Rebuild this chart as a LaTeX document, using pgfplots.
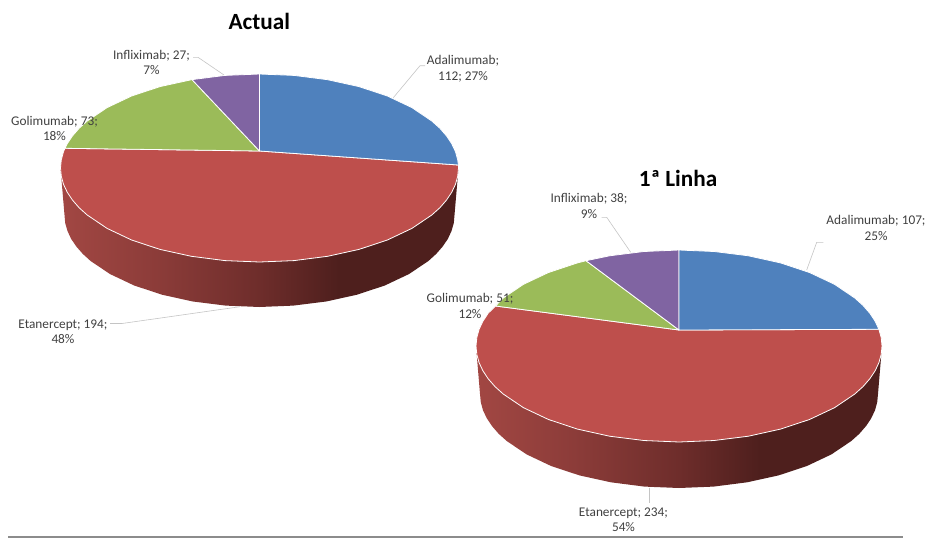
\documentclass[border=0pt]{standalone}
\usepackage{fontspec}
\setmainfont{Carlito}
\usepackage{pgfplots}
\pgfplotsset{compat=1.18}

\definecolor{adal}{HTML}{4F81BD}
\definecolor{etan}{HTML}{BE4F4C}
\definecolor{goli}{HTML}{9BBB59}
\definecolor{infl}{HTML}{8064A2}
\definecolor{leader}{HTML}{C4C4C4}
\definecolor{labeltext}{HTML}{404040}
\definecolor{footrule}{HTML}{8C8C8C}
\definecolor{sideA}{HTML}{A24743}
\definecolor{sideB}{HTML}{8C3C39}
\definecolor{sideC}{HTML}{6E2D2B}
\definecolor{sideD}{HTML}{4E1F1D}

% rim of a pie: lit on the left, falling to dark past the middle
\pgfdeclarehorizontalshading{pieside}{100bp}{
  color(0bp)=(sideA); color(25bp)=(sideA); color(37bp)=(sideB);
  color(50bp)=(sideC); color(60bp)=(sideD); color(100bp)=(sideD)}

\pgfplotsset{
  wedge/.style={draw=white, line width=0.8pt, line join=round, fill=#1},
  rim/.style={draw=none, shade, shading=pieside},
  lead/.style={draw=leader, line width=0.6pt},
}
\tikzset{
  lab/.style={font=\fontsize{13.3}{15.5}\selectfont, text=labeltext, align=center, inner sep=0pt},
  ttl/.style={font=\fontsize{23.2}{26}\selectfont\bfseries, text=black, inner sep=0pt},
}

\begin{document}
\begin{tikzpicture}
\begin{axis}[
  scale only axis, width=931pt, height=538pt,
  xmin=0, xmax=931, ymin=0, ymax=538, y dir=reverse,
  hide axis, clip=false,
]
% full page extent
\path (axis cs:0,0) rectangle (axis cs:931,538);

% --- Actual: rim, then wedges on top
\addplot[rim] coordinates {(60.5,168) (64.5,215) (65.2,223) (67.5,231) (71.1,238.8) (76.3,246.5) (82.8,253.9) (90.6,261) (110.1,274.1) (134.2,285.5) (162,294.7) (192.8,301.5) (225.6,305.6) (259.5,307) (293.4,305.6) (326.2,301.5) (357,294.7) (384.8,285.5) (408.9,274.1) (428.4,261) (436.2,253.9) (442.7,246.5) (447.9,238.8) (451.5,231) (453.8,223) (454.5,215) (458.5,168)} -- cycle;
\addplot[wedge=etan] coordinates {(259.5,151) (458.4,165) (458.5,168) (457.7,176.2) (455.5,184.3) (451.7,192.3) (446.5,200.1) (439.9,207.7) (431.8,215) (411.9,228.4) (387.4,240) (359,249.4) (327.6,256.3) (294,260.6) (259.5,262) (225,260.6) (191.4,256.3) (160,249.4) (131.6,240) (107.1,228.4) (87.2,215) (79.1,207.7) (72.5,200.1) (67.3,192.3) (63.5,184.3) (61.3,176.2) (60.5,168) (61.3,159.8) (63.5,151.7) (65,148.3)} -- cycle;
\addplot[wedge=goli] coordinates {(259.5,151) (65,148.3) (67.3,143.7) (72.5,135.9) (79.1,128.3) (87.2,121) (107.1,107.6) (131.6,96) (160,86.6) (192,79.6)} -- cycle;
\addplot[wedge=infl] coordinates {(259.5,151) (192,79.6) (225,75.4) (259.5,74)} -- cycle;
\addplot[wedge=adal] coordinates {(259.5,151) (259.5,74) (294,75.4) (327.6,79.7) (359,86.6) (387.4,96) (411.9,107.6) (431.8,121) (439.9,128.3) (446.5,135.9) (451.7,143.7) (455.5,151.7) (457.7,159.8) (458.4,165)} -- cycle;

% --- 1a Linha
\addplot[rim] coordinates {(476,346) (480,394) (480.8,402.2) (483,410.3) (486.8,418.3) (492,426.1) (498.6,433.7) (506.7,441) (526.6,454.4) (551.1,466) (579.5,475.4) (610.9,482.3) (644.5,486.6) (679,488) (713.5,486.6) (747.1,482.3) (778.5,475.4) (806.9,466) (831.4,454.4) (851.3,441) (859.4,433.7) (866,426.1) (871.2,418.3) (875,410.3) (877.2,402.2) (878,394) (882,346)} -- cycle;
\addplot[wedge=etan] coordinates {(679,330) (878.9,329.3) (881.2,337.6) (882,346) (881.2,354.4) (878.9,362.7) (875.1,370.8) (869.8,378.8) (863,386.6) (854.8,394) (834.5,407.7) (809.5,419.5) (780.5,429.1) (748.4,436.2) (714.2,440.5) (679,442) (643.8,440.5) (609.6,436.2) (577.5,429.1) (548.5,419.5) (523.5,407.7) (503.2,394) (495,386.6) (488.2,378.8) (482.9,370.8) (479.1,362.7) (476.8,354.4) (476,346) (476.8,337.6) (479.1,329.3) (482.9,321.2) (488.2,313.2) (495.5,306)} -- cycle;
\addplot[wedge=goli] coordinates {(679,330) (495.5,306) (503.2,298) (523.5,284.3) (548.5,272.5) (577.5,262.9) (586,260.7)} -- cycle;
\addplot[wedge=infl] coordinates {(679,330) (586,260.7) (609.6,255.8) (643.8,251.5) (679,250)} -- cycle;
\addplot[wedge=adal] coordinates {(679,330) (679,250) (714.2,251.5) (748.4,255.8) (780.5,262.9) (809.5,272.5) (834.5,284.3) (854.8,298) (863,305.4) (869.8,313.2) (875.1,321.2) (878.9,329.3)} -- cycle;

% --- leader lines
\addplot[lead] coordinates {(393.3,97.7) (420,65.7) (425,65.7)};
\addplot[lead] coordinates {(224,75) (198,57.3) (193,57.3)};
\addplot[lead] coordinates {(240,306.7) (122,323.5) (110,323.5)};
\addplot[lead] coordinates {(806.7,270) (816.7,242.3) (823.3,242.3)};
\addplot[lead] coordinates {(630.7,252.3) (606.7,217.3) (601.7,217.3)};
\addplot[lead] coordinates {(649.3,487.7) (649.3,503)};

% --- rule along the foot
\addplot[draw=footrule, line width=1.5pt] coordinates {(8,537) (903,537)};

% --- titles and data labels
\node[ttl] at (axis cs:259.3,21.7) {Actual};
\node[ttl] at (axis cs:678,178) {1ª Linha};
\node[lab] at (axis cs:463,68.5) {Adalimumab;\\112; 27\%};
\node[lab] at (axis cs:151.5,62.5) {Infliximab; 27;\\7\%};
\node[lab] at (axis cs:54.5,128.5) {Golimumab; 73;\\18\%};
\node[lab] at (axis cs:63,331.5) {Etanercept; 194;\\48\%};
\node[lab] at (axis cs:589,206) {Infliximab; 38;\\9\%};
\node[lab] at (axis cs:876,228) {Adalimumab; 107;\\25\%};
\node[lab] at (axis cs:470,306) {Golimumab; 51;\\12\%};
\node[lab] at (axis cs:623.5,519.5) {Etanercept; 234;\\54\%};
\end{axis}
\end{tikzpicture}
\end{document}
